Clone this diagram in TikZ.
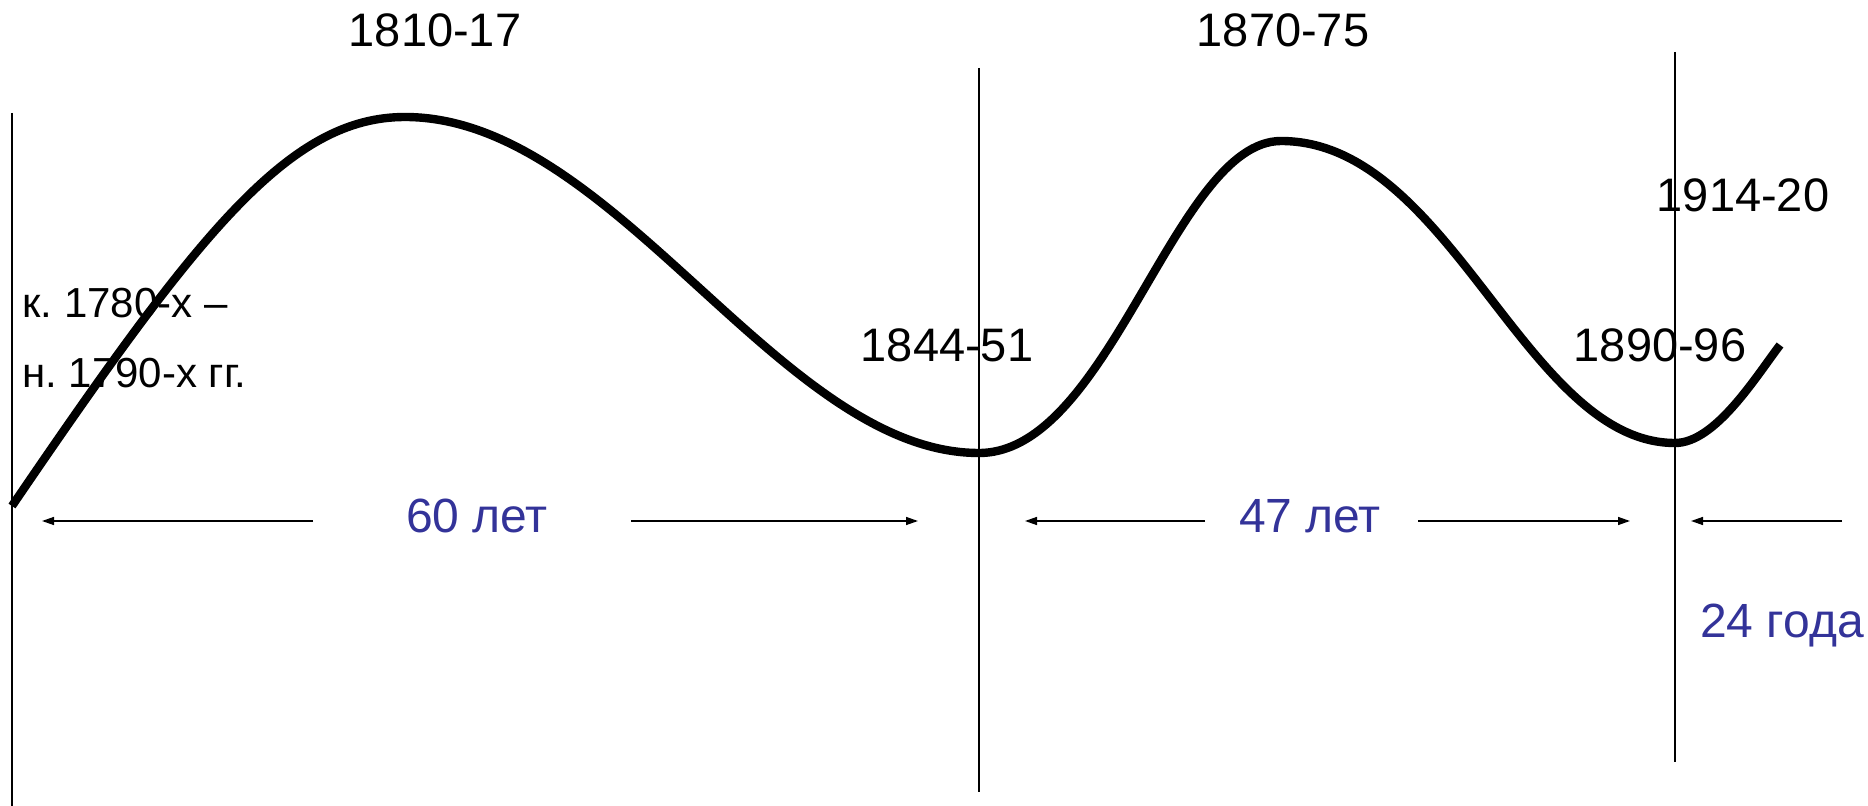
\documentclass[tikz,border=0pt]{standalone}
\usepackage{fontspec}
\setmainfont{Liberation Sans}
\usepackage{tikz}
\usetikzlibrary{arrows.meta}
\definecolor{cycleBlue}{HTML}{333399}
\frenchspacing
\tikzset{
  yearlbl/.style={anchor=base, inner sep=0pt, font=\fontsize{23.5}{28}\selectfont},
  spanlbl/.style={anchor=base, inner sep=0pt, text=cycleBlue, font=\fontsize{24}{29}\selectfont},
  startlbl/.style={anchor=base west, inner sep=0pt, font=\fontsize{21}{25}\selectfont},
  divider/.style={line width=1pt},
  wave/.style={line width=4.2pt},
  spanarrow/.style={line width=0.7pt, -{Triangle[length=6pt,width=4pt]}}
}

\begin{document}
\begin{tikzpicture}[x=0.5pt, y=-0.5pt]
\useasboundingbox (0,0) rectangle (1868,806);
\coordinate (divAtop) at (12,113);
\coordinate (divAbot) at (12,806);
\coordinate (divBtop) at (979,68);
\coordinate (divBbot) at (979,792);
\coordinate (divCtop) at (1675,52);
\coordinate (divCbot) at (1675,762);
\draw[divider] (divAtop) -- (divAbot);
\draw[divider] (divBtop) -- (divBbot);
\draw[divider] (divCtop) -- (divCbot);

\coordinate (waveStart) at (12,506);
\coordinate (peakA) at (405,117);
\coordinate (troughA) at (979,453);
\coordinate (peakB) at (1281,141);
\coordinate (troughB) at (1675,443);
\coordinate (waveEnd) at (1780,345);
\draw[wave] (waveStart) .. controls (200,230) and (290,117) .. (peakA)
  .. controls (615,117) and (780,453) .. (troughA)
  .. controls (1110,453) and (1175,141) .. (peakB)
  .. controls (1451,141) and (1525,443) .. (troughB)
  .. controls (1715,443) and (1755,378) .. (waveEnd);

\node[yearlbl] (y1810) at (435,47) {1810-17};
\node[yearlbl] (y1870) at (1283,47) {1870-75};
\node[yearlbl] (y1914) at (1743,212) {1914-20};
\node[yearlbl] (y1844) at (947,362) {1844-51};
\node[yearlbl] (y1890) at (1660,362) {1890-96};
\node[startlbl] (y1780) at (22,318) {к. 1780-х –};
\node[startlbl] (y1790) at (22,388) {н. 1790-х гг.};

\node[spanlbl] (span60) at (477,533) {60 лет};
\node[spanlbl] (span47) at (1310,533) {47 лет};
\node[spanlbl] (span24) at (1782,637) {24 года};

\coordinate (a60Ls) at (313,521);
\coordinate (a60Le) at (42,521);
\coordinate (a60Rs) at (631,521);
\coordinate (a60Re) at (918,521);
\coordinate (a47Ls) at (1205,521);
\coordinate (a47Le) at (1025,521);
\coordinate (a47Rs) at (1418,521);
\coordinate (a47Re) at (1630,521);
\coordinate (a24s) at (1842,521);
\coordinate (a24e) at (1691,521);
\draw[spanarrow] (a60Ls) -- (a60Le);
\draw[spanarrow] (a60Rs) -- (a60Re);
\draw[spanarrow] (a47Ls) -- (a47Le);
\draw[spanarrow] (a47Rs) -- (a47Re);
\draw[spanarrow] (a24s) -- (a24e);
\end{tikzpicture}
\end{document}
